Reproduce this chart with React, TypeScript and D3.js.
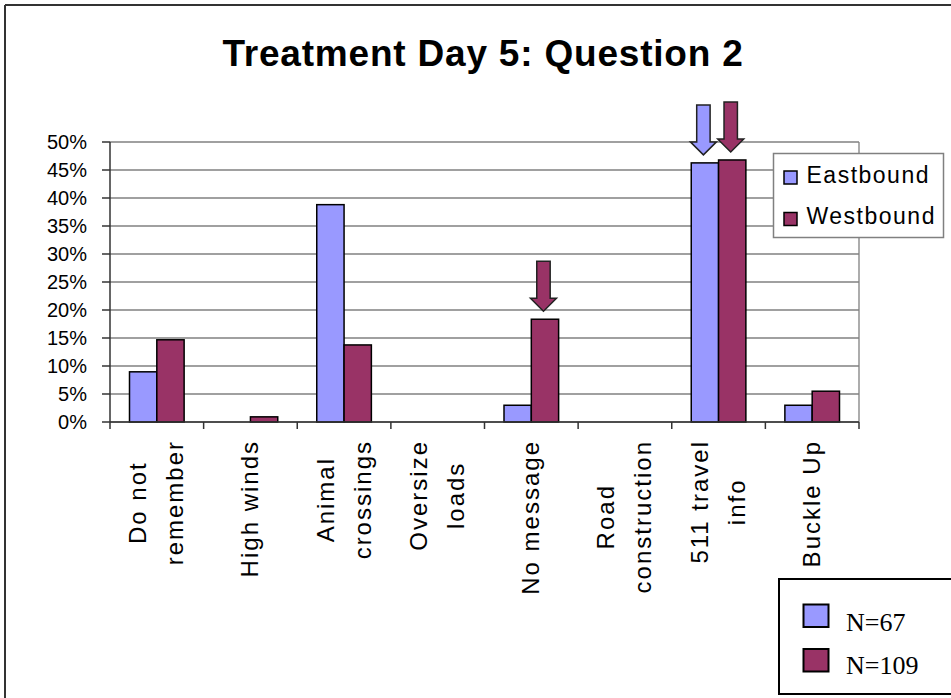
import React from "react";
import * as d3 from "d3";

const categories = [
  "Do not\nremember",
  "High winds",
  "Animal\ncrossings",
  "Oversize\nloads",
  "No message",
  "Road\nconstruction",
  "511 travel\ninfo",
  "Buckle Up",
];
const seriesNames = ["Eastbound", "Westbound"];
const eastbound = [8.96, 0, 38.81, 0, 2.99, 0, 46.27, 2.99];
const westbound = [14.68, 0.92, 13.76, 0, 18.35, 0, 46.79, 5.5];
const yTicks = [0, 5, 10, 15, 20, 25, 30, 35, 40, 45, 50];
const arrowTargets = [
  { category: "No message", series: "Westbound" },
  { category: "511 travel\ninfo", series: "Eastbound" },
  { category: "511 travel\ninfo", series: "Westbound" },
];
const sampleSizes = ["N=67", "N=109"];
const title = "Treatment Day 5: Question 2";

const colors: Record<string, string> = { Eastbound: "#9999FF", Westbound: "#993366" };
const SANS = "'Liberation Sans', Arial, sans-serif";
const SERIF = "'Liberation Serif', 'Times New Roman', serif";

function measure(text: string, font: string, ls: number) {
  const c = document.createElement("canvas").getContext("2d");
  if (!c) return text.length * 12;
  c.font = font;
  return c.measureText(text).width + ls * text.length;
}

export default function App() {
  const W = 951, H = 698;
  const plot = { left: 110, right: 859, top: 142, bottom: 422 };
  const x0 = d3.scaleBand<string>().domain(categories).range([plot.left, plot.right]).paddingInner(0).paddingOuter(0);
  const x1 = d3.scaleBand<string>().domain(seriesNames).range([0, x0.bandwidth()]).paddingInner(0).paddingOuter(0.714);
  const y = d3.scaleLinear().domain([0, 50]).range([plot.bottom, plot.top]);
  const values: Record<string, number[]> = { Eastbound: eastbound, Westbound: westbound };

  const labelFontSize = 24;
  const labelLs = 2;
  const lineGap = 37;
  const labelTop = 440;

  return (
    <div style={{ position: "absolute", left: 0, top: 0 }}>
      <svg width={W} height={H} style={{ display: "block", background: "#fff" }}>
        {/* outer frame */}
        <line x1={5} y1={5} x2={W + 2} y2={5} stroke="#333" strokeWidth={2} />
        <line x1={5} y1={5} x2={5} y2={H + 2} stroke="#333" strokeWidth={2} />

        {/* title */}
        <text x={483} y={66} textAnchor="middle" fontFamily={SANS} fontWeight="bold" fontSize={37} letterSpacing={0.8} fill="#000">
          {title}
        </text>

        {/* gridlines */}
        {yTicks.map((t) => (
          <line key={"g" + t} x1={plot.left} x2={plot.right} y1={y(t)} y2={y(t)} stroke="#808080" strokeWidth={1.3} />
        ))}
        <line x1={plot.right} x2={plot.right} y1={plot.top} y2={plot.bottom} stroke="#808080" strokeWidth={1.3} />

        {/* bars */}
        {categories.map((c, i) =>
          seriesNames.map((s) => {
            const v = values[s][i];
            if (v <= 0) return null;
            return (
              <rect
                key={c + s}
                x={(x0(c) as number) + (x1(s) as number)}
                y={y(v)}
                width={x1.bandwidth()}
                height={y(0) - y(v)}
                fill={colors[s]}
                stroke="#000"
                strokeWidth={1.5}
              />
            );
          })
        )}

        {/* axes */}
        <line x1={plot.left} x2={plot.left} y1={plot.top} y2={plot.bottom} stroke="#333" strokeWidth={1.5} />
        <line x1={plot.left} x2={plot.right} y1={plot.bottom} y2={plot.bottom} stroke="#333" strokeWidth={1.5} />
        {yTicks.map((t) => (
          <g key={"yt" + t}>
            <line x1={plot.left - 8} x2={plot.left} y1={y(t)} y2={y(t)} stroke="#333" strokeWidth={1.5} />
            <text x={87} y={y(t)} dy="0.35em" textAnchor="end" fontFamily={SANS} fontSize={20} fill="#000">
              {t + "%"}
            </text>
          </g>
        ))}
        {categories.map((c, i) => (
          <line key={"xt" + i} x1={x0(c) as number} x2={x0(c) as number} y1={plot.bottom} y2={plot.bottom + 7} stroke="#333" strokeWidth={1.5} />
        ))}
        <line x1={plot.right} x2={plot.right} y1={plot.bottom} y2={plot.bottom + 7} stroke="#333" strokeWidth={1.5} />

        {/* category labels */}
        {categories.map((c) => {
          const lines = c.split("\n");
          const font = `${labelFontSize}px ${SANS}`;
          const maxLen = Math.max(...lines.map((l) => measure(l, font, labelLs)));
          const cx = (x0(c) as number) + x0.bandwidth() / 2;
          const cy = labelTop + maxLen / 2;
          return lines.map((l, j) => {
            const bx = cx + (j - (lines.length - 1) / 2) * lineGap + 8;
            return (
              <text
                key={c + j}
                transform={`translate(${bx},${cy}) rotate(-90)`}
                textAnchor="middle"
                fontFamily={SANS}
                fontSize={labelFontSize}
                letterSpacing={labelLs}
                fill="#000"
              >
                {l}
              </text>
            );
          });
        })}

        {/* arrows */}
        {arrowTargets.map((a, i) => {
          const ci = categories.indexOf(a.category);
          const v = values[a.series][ci];
          const cx = (x0(a.category) as number) + (x1(a.series) as number) + x1.bandwidth() / 2 - 1.5;
          const tip = y(v) - 8;
          const sw = 6.7, hw = 13, hh = 13, len = 50;
          const pts = [
            [cx - sw, tip - len],
            [cx + sw, tip - len],
            [cx + sw, tip - hh],
            [cx + hw, tip - hh],
            [cx, tip],
            [cx - hw, tip - hh],
            [cx - sw, tip - hh],
          ];
          return (
            <polygon key={"a" + i} points={pts.map((p) => p.join(",")).join(" ")} fill={colors[a.series]} stroke="#222" strokeWidth={1.5} strokeLinejoin="miter" />
          );
        })}

        {/* series legend */}
        <rect x={773.5} y={153.5} width={170} height={84} fill="#fff" stroke="#808080" strokeWidth={1.5} />
        {seriesNames.map((s, i) => (
          <g key={"l" + s}>
            <rect x={784} y={171 + i * 41.5} width={13} height={13} fill={colors[s]} stroke="#000" strokeWidth={1.5} />
            <text x={806.5} y={182.5 + i * 41.5} fontFamily={SANS} fontSize={23} letterSpacing={1.5} fill="#000">
              {s}
            </text>
          </g>
        ))}

        {/* sample size legend */}
        <rect x={779} y={579} width={190} height={115} fill="#fff" stroke="#000" strokeWidth={2} />
        {sampleSizes.map((n, i) => (
          <g key={"n" + n}>
            <rect x={803.5} y={604.5 + i * 44.5} width={25} height={22.5} fill={colors[seriesNames[i]]} stroke="#000" strokeWidth={2} />
            <text x={846} y={631 + i * 42.5} fontFamily={SERIF} fontSize={26} fill="#000">
              {n}
            </text>
          </g>
        ))}
      </svg>
    </div>
  );
}
